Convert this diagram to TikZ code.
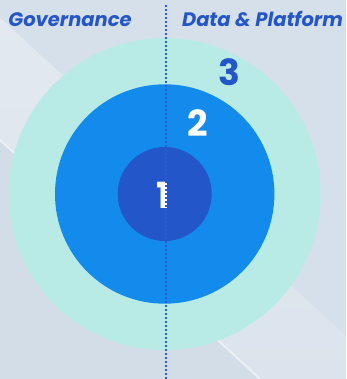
\documentclass[tikz,border=0pt]{standalone}
\usepackage{fontspec}
\setmainfont{Poppins}
\definecolor{bgA}{HTML}{D6E0EA}
\definecolor{bgLow}{HTML}{D3DDE8}
\definecolor{bgB}{HTML}{E6EBF1}
\definecolor{ringout}{HTML}{B8EBE6}
\definecolor{ringmid}{HTML}{138BEC}
\definecolor{ringin}{HTML}{2356C8}
\definecolor{txtblue}{HTML}{2556C8}
\definecolor{dotblue}{HTML}{2C5CD2}
\tikzset{
  heading/.style={font=\fontsize{19.5}{21}\selectfont\bfseries\itshape, text=txtblue, inner sep=0pt, anchor=base},
  num/.style={font=\fontsize{36}{38}\selectfont\bfseries, inner sep=0pt},
  divider/.style={draw=dotblue, line width=2pt, dash pattern=on 2pt off 2pt}
}
\begin{document}
\begin{tikzpicture}[x=1pt,y=-1pt]
\useasboundingbox (0,0) rectangle (346,379);
\fill[bgLow] (0,0) rectangle (346,379);
\begin{scope}
  \clip (0,0) -- (0,140) -- (260,379) -- (346,379) -- (346,0) -- cycle;
  \fill[bgA] (0,0) rectangle (346,379);
  \begin{scope}[shift={(0,140)}, rotate=-42.6]
    \shade[top color=bgB, bottom color=bgA] (-300,-90) rectangle (700,0);
  \end{scope}
\end{scope}
\draw[white, line width=2pt, opacity=0.5] (0,140) -- (260,379);
\fill[ringout] (164.7,194) circle (156);
\fill[ringmid] (164.7,194) circle (109.7);
\fill[ringin] (164.7,194) circle (47);
\node[heading] (gov) at (70,26.5) {Governance};
\node[heading] (dp) at (262.5,26.5) {Data \& Platform};
\node[num, text=ringin] (n3) at (229,72.5) {3};
\node[num, text=white] (n2) at (197.5,123) {2};
\node[num, text=white] (n1) at (163.5,195) {1};
\coordinate (top) at (165.5,5);
\coordinate (bot) at (165.5,379);
\draw[divider] (top) -- (bot);
\end{tikzpicture}
\end{document}
